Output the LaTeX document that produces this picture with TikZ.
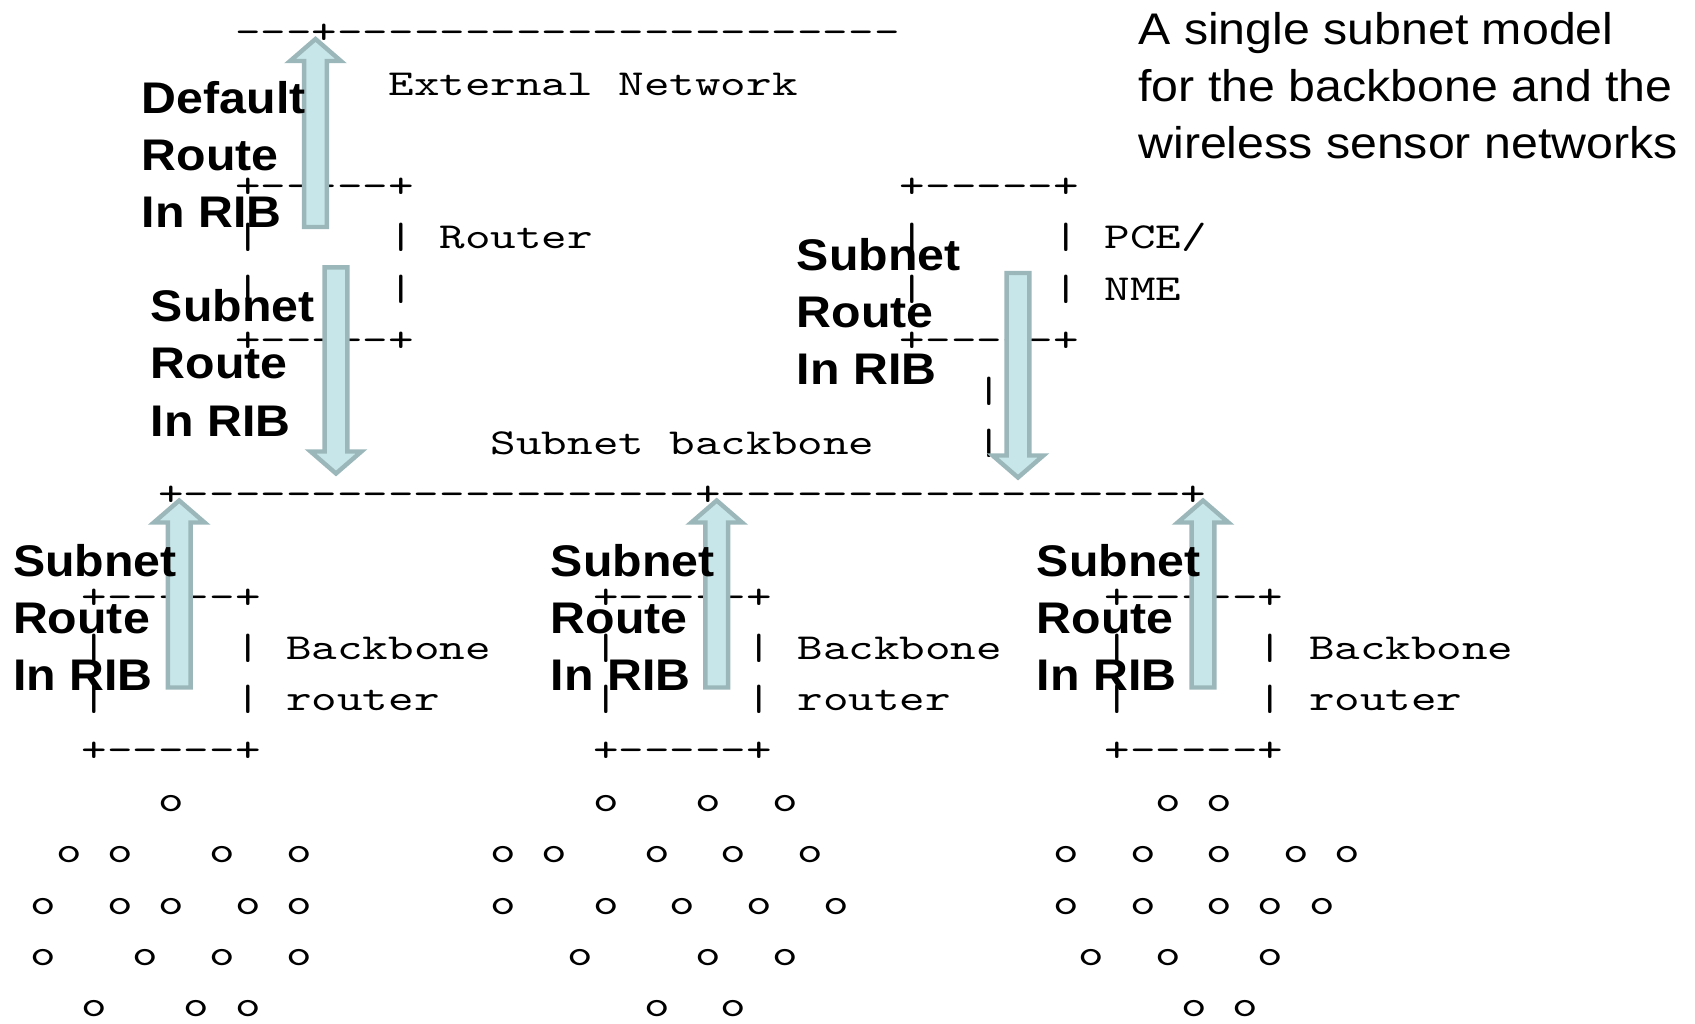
\documentclass[tikz,border=0pt]{standalone}
\usepackage{fontspec}
\setmainfont{Liberation Sans}[FakeStretch=1.09]
\newfontfamily\asciifont{lmmono10-regular.otf}[FakeStretch=1.33,Ligatures=TeXOff]
\definecolor{ribfill}{RGB}{198,230,233}
\definecolor{ribline}{RGB}{156,183,186}
\newcommand\ribup[3]{\draw[ribarrow] (#1-11.4,#3) -- (#1-11.4,#2+22) -- (#1-25.4,#2+22) -- (#1,#2) -- (#1+25.4,#2+22) -- (#1+11.4,#2+22) -- (#1+11.4,#3) -- cycle;}
\newcommand\ribdown[3]{\draw[ribarrow] (#1-11.4,#3) -- (#1-11.4,#2-22) -- (#1-25.4,#2-22) -- (#1,#2) -- (#1+25.4,#2-22) -- (#1+11.4,#2-22) -- (#1+11.4,#3) -- cycle;}
\begin{document}
\begin{tikzpicture}[x=0.5pt,y=-0.5pt,
  ascii/.style={anchor=base west,font=\asciifont\fontsize{18.3}{22}\selectfont},
  rib/.style={anchor=north west,align=left,font=\fontsize{22.15}{28.6}\selectfont\bfseries},
  caption/.style={anchor=north west,align=left,font=\fontsize{22.15}{28.6}\selectfont},
  ribarrow/.style={draw=ribline,fill=ribfill,line width=2.2pt,line join=miter}]
\tikzstyle{every node}+=[inner sep=0pt]
\useasboundingbox (0,0) rectangle (1695,1023);
\foreach \c/\r/\t in {3/0/{---+----------------------},9/1/{External},18/1/{Network},
    3/3/{+-----+},29/3/{+-----+},
    3/4/{|},9/4/{|},11/4/{Router},29/4/{|},35/4/{|},37/4/{PCE/},
    3/5/{|},9/5/{|},29/5/{|},35/5/{|},37/5/{NME},
    3/6/{+-----+},29/6/{+-----+},
    32/7/{|},13/8/{Subnet},20/8/{backbone},32/8/{|},
    0/9/{+--------------------+------------------+},
    -3/11/{+-----+},17/11/{+-----+},37/11/{+-----+},
    -3/12/{|},3/12/{|},5/12/{Backbone},17/12/{|},23/12/{|},25/12/{Backbone},37/12/{|},43/12/{|},45/12/{Backbone},
    -3/13/{|},3/13/{|},5/13/{router},17/13/{|},23/13/{|},25/13/{router},37/13/{|},43/13/{|},45/13/{router},
    -3/14/{+-----+},17/14/{+-----+},37/14/{+-----+}}
  \node[ascii] (a-\c-\r) at ({158+25.57*\c},{43.7+51.3*\r}) {\t};
\foreach \r/\cs in {15/{0,17,21,24,39,41},
    16/{-4,-2,2,5,13,15,19,22,25,35,38,41,44,46},
    17/{-5,-2,0,3,5,13,17,20,23,26,35,38,41,43,45},
    18/{-5,-1,2,5,16,21,24,36,39,43},
    19/{-3,1,3,19,22,40,42}}
  {\foreach \c in \cs {\node[ascii] (o-\r-\c) at ({158+25.57*\c},{42+51.3*\r}) {o};}}
\ribup{315.5}{39}{227}
\ribdown{336}{473.5}{267.3}
\ribdown{1018}{477.5}{273}
\ribup{179.2}{500.5}{687.5}
\ribup{716.7}{500.5}{687.5}
\ribup{1203}{500.5}{687.5}
\node[rib] (dflt) at (141.5,81) {Default\\Route\\In RIB};
\node[rib] (rtrsub) at (150.5,289.2) {Subnet\\Route\\In RIB};
\node[rib] (pcesub) at (796.5,237.5) {Subnet\\Route\\In RIB};
\node[rib] (bbsub1) at (12.7,543.5) {Subnet\\Route\\In RIB};
\node[rib] (bbsub2) at (550.5,543.5) {Subnet\\Route\\In RIB};
\node[rib] (bbsub3) at (1036.5,543.5) {Subnet\\Route\\In RIB};
\node[caption] (model) at (1138,11.7) {A single subnet model\\for the backbone and the\\wireless sensor networks};
\end{tikzpicture}
\end{document}
